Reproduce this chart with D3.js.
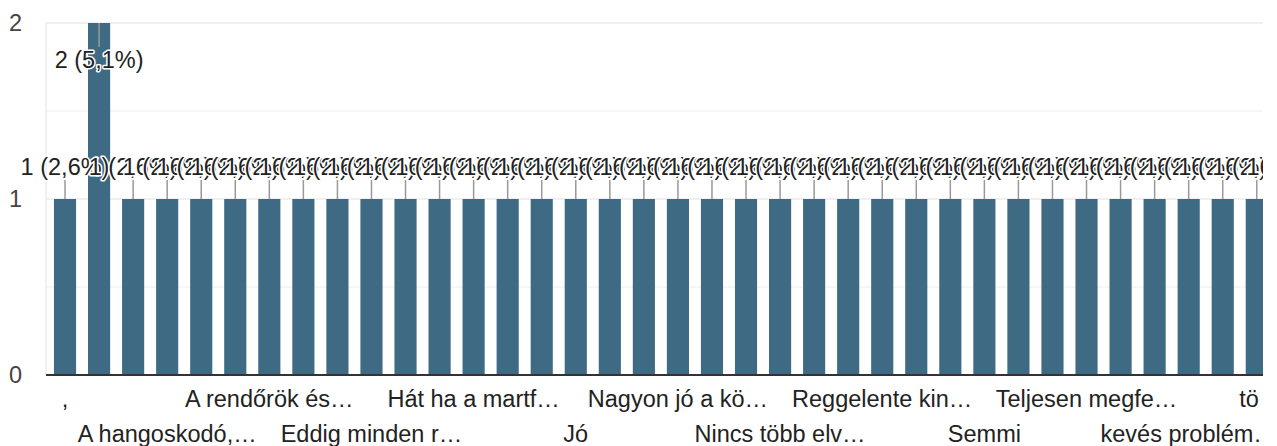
<!DOCTYPE html>
<html>
<head>
<meta charset="utf-8">
<script src="https://cdn.jsdelivr.net/npm/d3@7"></script>
<style>
  html, body { margin: 0; padding: 0; background: #fff; }
  svg { display: block; font-family: "Liberation Sans", Arial, sans-serif; }
</style>
</head>
<body>
<svg id="chart" width="1277" height="446"></svg>
<script>
// ---- data ----
const categories = [
  ",", "-", "A busz…", "A hangoskodó,…", "A jegy…", "A reggeli…",
  "A rendőrök és…", "Alapvetően jó", "Biztonságos", "Eddig minden r…",
  "Elégedett vagyok", "Felesleges", "Hát ha a martf…", "Hiányos", "Igen",
  "Jó", "Kevés a hely", "Minden rendben", "Nagyon jó a kö…", "Nem tudom",
  "Nincs", "Nincs több elv…", "Nyugodt", "Rendben van", "Reggelente kin…",
  "Rossz", "Sajnos", "Semmi", "Szerintem jó", "Tapasztaltam",
  "Teljesen megfe…", "Zajos", "jó", "kevés problém…", "nem", "nincs",
  "több pénz", "zsúfolt"
];
const counts = [
  1, 2, 1, 1, 1, 1, 1, 1, 1, 1,
  1, 1, 1, 1, 1, 1, 1, 1, 1, 1,
  1, 1, 1, 1, 1, 1, 1, 1, 1, 1,
  1, 1, 1, 1, 1, 1, 1, 1
];
const yTicks = [0, 1, 2];
const gridValues = [0.5, 1, 1.5, 2];

// ---- layout ----
const W = 1277, H = 446;
const plotLeft = 46, clipRight = 1263;
const step = 34.05;
const x0 = 48;
const FS = 23.5;
const svg = d3.select("#chart");

const total = d3.sum(counts);
const x = d3.scaleBand()
  .domain(categories)
  .range([x0, x0 + step * categories.length])
  .paddingInner(0.35)
  .paddingOuter(0.175);
const y = d3.scaleLinear().domain([0, 2]).range([375, 23]);

const defs = svg.append("defs");
defs.append("clipPath").attr("id", "clip")
  .append("rect").attr("x", 0).attr("y", 0).attr("width", clipRight).attr("height", H);
defs.append("clipPath").attr("id", "clipLab")
  .append("rect").attr("x", 0).attr("y", 0).attr("width", clipRight - 3).attr("height", H);

const g = svg.append("g").attr("clip-path", "url(#clip)");

// gridlines
g.selectAll("line.grid").data(gridValues).join("line")
  .attr("class", "grid")
  .attr("x1", plotLeft).attr("x2", W)
  .attr("y1", d => y(d)).attr("y2", d => y(d))
  .attr("stroke", d => Number.isInteger(d) ? "#ebebeb" : "#f3f3f3")
  .attr("stroke-width", 1.5);

// left axis line
g.append("line")
  .attr("x1", plotLeft).attr("x2", plotLeft)
  .attr("y1", y(2)).attr("y2", y(0))
  .attr("stroke", "#ebebeb").attr("stroke-width", 1.5);

// y tick labels
svg.selectAll("text.ytick").data(yTicks).join("text")
  .attr("class", "ytick")
  .attr("x", 22).attr("y", d => y(d))
  .attr("dy", "0.36em")
  .attr("text-anchor", "end")
  .attr("font-size", FS)
  .attr("fill", "#444")
  .text(d => d);

// bars
g.selectAll("rect.bar").data(categories).join("rect")
  .attr("class", "bar")
  .attr("x", d => x(d))
  .attr("width", x.bandwidth())
  .attr("y", (d, i) => y(counts[i]))
  .attr("height", (d, i) => y(0) - y(counts[i]))
  .attr("fill", "#3e6b83");

// baseline
g.append("line")
  .attr("x1", plotLeft).attr("x2", W)
  .attr("y1", y(0)).attr("y2", y(0))
  .attr("stroke", "#333").attr("stroke-width", 2);

// annotations
const maxV = d3.max(counts);
const fmtPct = v => (Math.round(v * 1000) / 10).toFixed(1).replace(".", ",");
const ann = g.selectAll("g.ann").data(categories).join("g").attr("class", "ann");
ann.append("line")
  .attr("x1", d => x(d) + x.bandwidth() / 2)
  .attr("x2", d => x(d) + x.bandwidth() / 2)
  .attr("y1", (d, i) => y(counts[i]))
  .attr("y2", (d, i) => counts[i] === maxV ? y(counts[i]) + 24 : y(counts[i]) - 19)
  .attr("stroke", "#999").attr("stroke-width", 1.5);
ann.append("text")
  .attr("x", d => x(d) + x.bandwidth() / 2)
  .attr("y", (d, i) => counts[i] === maxV ? y(counts[i]) + 45 : y(counts[i]) - 24)
  .attr("text-anchor", "middle")
  .attr("font-size", FS)
  .attr("fill", "#222")
  .attr("stroke", "#fff")
  .attr("stroke-width", 3)
  .attr("paint-order", "stroke")
  .attr("stroke-linejoin", "round")
  .text((d, i) => `${counts[i]} (${fmtPct(counts[i] / total)}%)`);

// x labels: every 3rd category, alternating rows
svg.append("g").attr("clip-path", "url(#clipLab)")
  .selectAll("text.xlab").data(categories.filter((d, i) => i % 3 === 0)).join("text")
  .attr("class", "xlab")
  .attr("x", d => x(d) + x.bandwidth() / 2)
  .attr("y", (d, j) => j % 2 === 0 ? 407 : 442)
  .attr("text-anchor", "middle")
  .attr("font-size", FS)
  .attr("fill", "#222")
  .text(d => d);
</script>
</body>
</html>
